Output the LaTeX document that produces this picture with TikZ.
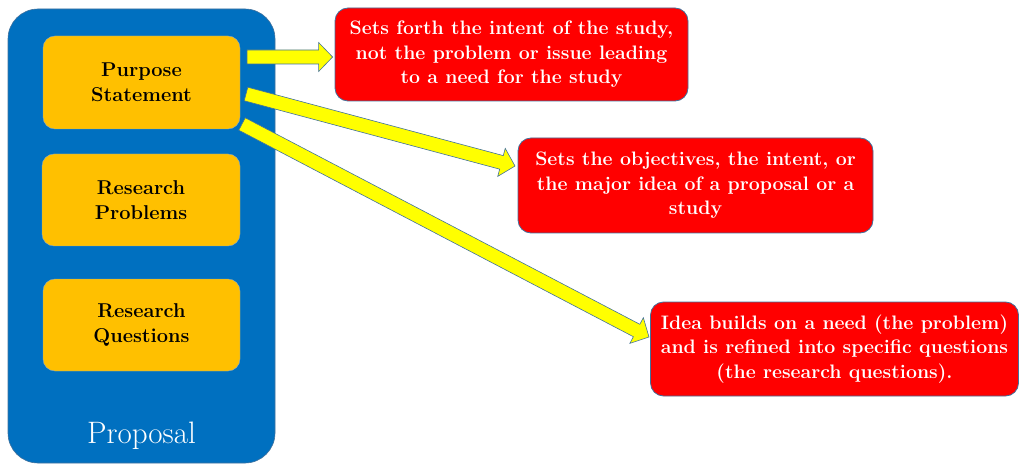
\documentclass[tikz,border=0pt]{standalone}
\usetikzlibrary{calc}
\definecolor{pblue}{HTML}{0070C0}
\definecolor{porange}{HTML}{FFC000}
\definecolor{pred}{HTML}{FF0000}
\definecolor{pyellow}{HTML}{FFFF00}
\definecolor{pline}{HTML}{41719C}
\newcommand\blockarrow[2]{%
  \coordinate (ba-h) at ($(#2)!14pt!(#1)$);
  \draw[yarrow] ($(#1)!7pt!90:(#2)$) -- ($(ba-h)!7pt!90:(#2)$) -- ($(ba-h)!14.5pt!90:(#2)$) -- (#2)
    -- ($(ba-h)!14.5pt!-90:(#2)$) -- ($(ba-h)!7pt!-90:(#2)$) -- ($(#1)!7pt!-90:(#2)$) -- cycle;}
\begin{document}
\begin{tikzpicture}[x=1pt,y=-1pt,
  container/.style={draw=pline, line width=0.6pt, fill=pblue, rounded corners=30pt, inner sep=0pt},
  itembox/.style={draw=pline!60, line width=0.4pt, fill=porange, rounded corners=12pt, inner sep=0pt,
    align=center, font=\fontsize{20}{25}\selectfont\bfseries},
  notebox/.style={draw=pline, line width=0.8pt, fill=pred, rounded corners=13pt, inner sep=0pt,
    align=center, text=white, font=\fontsize{19.5}{24.5}\selectfont\bfseries},
  yarrow/.style={draw=pline, line width=0.6pt, fill=pyellow, line join=miter}]
\useasboundingbox (0,0) rectangle (1020,465);
\node[container, minimum width=267pt, minimum height=454pt] (proposal) at (141.5,236) {};
\node[text=white, font=\fontsize{31}{34}\selectfont] (plabel) at (141.5,436) {Proposal};
\node[itembox, minimum width=197pt, minimum height=93pt] (purpose) at (141.5,82.5) {Purpose\\Statement};
\node[itembox, minimum width=198pt, minimum height=92pt] (problems) at (141,200) {Research\\Problems};
\node[itembox, minimum width=197pt, minimum height=92pt] (questions) at (141.5,325) {Research\\Questions};
\node[notebox, minimum width=353pt, minimum height=93pt] (n1) at (511.5,54.5)
  {Sets forth the intent of the study,\\not the problem or issue leading\\to a need for the study};
\node[notebox, minimum width=355pt, minimum height=95pt] (n2) at (695.5,185.5)
  {Sets the objectives, the intent, or\\the major idea of a proposal or a\\study};
\node[notebox, minimum width=368pt, minimum height=94pt] (n3) at (834.5,349)
  {Idea builds on a need (the problem)\\and is refined into specific questions\\(the research questions).};
\coordinate (a1s) at (247,57);
\coordinate (a1e) at ($(n1.west)+(-2,2.5)$);
\coordinate (a2s) at (246,94);
\coordinate (a2e) at (515,166);
\coordinate (a3s) at (242,124);
\coordinate (a3e) at (649,337);
\blockarrow{a1s}{a1e}
\blockarrow{a2s}{a2e}
\blockarrow{a3s}{a3e}
\end{tikzpicture}
\end{document}
